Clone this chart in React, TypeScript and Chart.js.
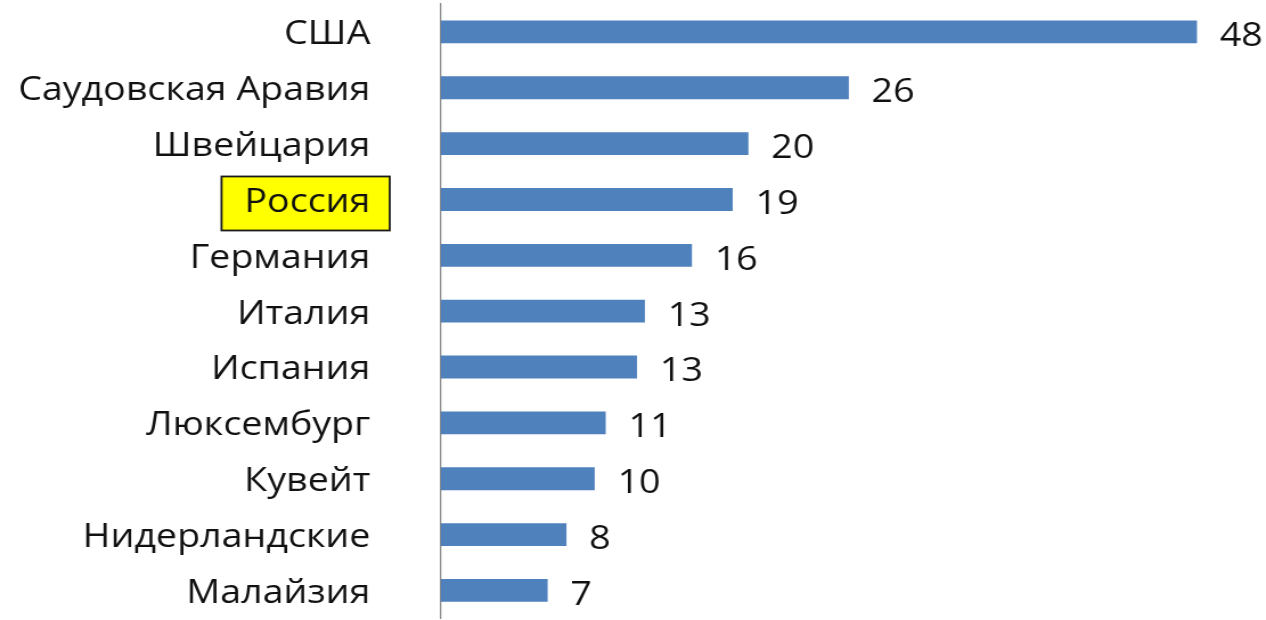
import React, { useEffect, useRef } from "react";
import { Chart, registerables } from "chart.js";

Chart.register(...registerables);

const countries: string[] = [
  "США",
  "Саудовская Аравия",
  "Швейцария",
  "Россия",
  "Германия",
  "Италия",
  "Испания",
  "Люксембург",
  "Кувейт",
  "Нидерландские",
  "Малайзия",
];

const values: number[] = [48.2, 26.0, 19.6, 18.6, 16.0, 13.0, 12.5, 10.5, 9.8, 8.0, 6.8];

const highlighted = "Россия";

const FONT_FAMILY = '"Open Sans", "DejaVu Sans", sans-serif';
const FONT_SIZE = 33;
const STRETCH = 1.14;
const VIEW_W = 1266;
const CANVAS_W = Math.round(VIEW_W / STRETCH);
const CANVAS_H = 620;
const AXIS_X = 387;
const LABEL_GAP = 62;

const highlightPlugin = {
  id: "highlightBox",
  beforeDraw(chart: any) {
    const yScale = chart.scales.y;
    const idx = countries.indexOf(highlighted);
    if (idx < 0) return;
    const ctx = chart.ctx;
    const y = yScale.getPixelForTick(idx);
    ctx.save();
    ctx.font = `${FONT_SIZE}px ${FONT_FAMILY}`;
    const w = ctx.measureText(highlighted).width;
    const textRight = yScale.right - LABEL_GAP;
    const left = textRight - w - 20;
    const right = textRight + 17;
    const top = y - 23;
    const bottom = y + 31;
    ctx.fillStyle = "#FFFF00";
    ctx.fillRect(left, top, right - left, bottom - top);
    ctx.lineWidth = 1.8;
    ctx.strokeStyle = "#1a1a1a";
    ctx.strokeRect(left, top, right - left, bottom - top);
    ctx.restore();
  },
};

const valueLabelPlugin = {
  id: "valueLabels",
  afterDatasetsDraw(chart: any) {
    const ctx = chart.ctx;
    const meta = chart.getDatasetMeta(0);
    ctx.save();
    ctx.font = `${FONT_SIZE}px ${FONT_FAMILY}`;
    ctx.fillStyle = "#111111";
    ctx.textAlign = "left";
    ctx.textBaseline = "middle";
    meta.data.forEach((bar: any, i: number) => {
      const v = values[i];
      ctx.fillText(String(Math.round(v)), bar.x + 20, bar.y + 5);
    });
    ctx.restore();
  },
};

export default function App() {
  const canvasRef = useRef<HTMLCanvasElement | null>(null);

  useEffect(() => {
    document.body.style.margin = "0";
    document.body.style.overflow = "hidden";
    document.body.style.background = "#ffffff";
    let chart: Chart | null = null;
    let cancelled = false;

    const build = () => {
      if (cancelled || !canvasRef.current) return;
      const cv = canvasRef.current;
      cv.width = CANVAS_W;
      cv.height = CANVAS_H;
      cv.style.width = `${VIEW_W}px`;
      cv.style.height = `${CANVAS_H}px`;
      chart = new Chart(cv, {
        type: "bar",
        data: {
          labels: countries,
          datasets: [
            {
              data: values,
              backgroundColor: "#4F81BD",
              borderWidth: 0,
              categoryPercentage: 1,
              barPercentage: 0.41,
            },
          ],
        },
        options: {
          indexAxis: "y",
          responsive: false,
          maintainAspectRatio: false,
          animation: false,
          devicePixelRatio: 1,
          layout: { padding: { top: 4, left: 0, right: 0, bottom: 0 } },
          plugins: {
            legend: { display: false },
            tooltip: { enabled: false },
          },
          scales: {
            x: { display: false, min: 0, max: 52.6 },
            y: {
              grid: { display: false, drawTicks: true, tickLength: LABEL_GAP },
              border: { display: true, color: "#8a8a8a", width: 1.3 },
              ticks: {
                padding: 0,
                autoSkip: false,
                labelOffset: 3,
                color: "#111111",
                font: { family: FONT_FAMILY, size: FONT_SIZE, lineHeight: 0.1 },
              },
              afterFit: (scale: any) => {
                scale.width = AXIS_X;
              },
            },
          },
        },
        plugins: [highlightPlugin, valueLabelPlugin],
      } as any);
    };

    const fontsApi: any = (document as any).fonts;
    if (fontsApi && fontsApi.load) {
      fontsApi
        .load(`${FONT_SIZE}px "Open Sans"`, "Россия 48")
        .then(build, build);
    } else {
      build();
    }

    return () => {
      cancelled = true;
      if (chart) chart.destroy();
    };
  }, []);

  return (
    <div style={{ width: VIEW_W, height: CANVAS_H }}>
      <canvas ref={canvasRef} style={{ display: "block" }} />
    </div>
  );
}
